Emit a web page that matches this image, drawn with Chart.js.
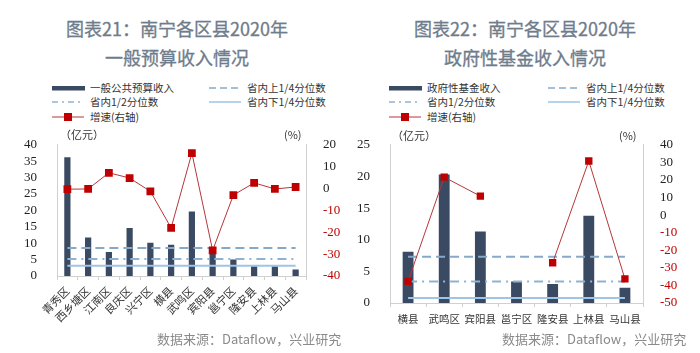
<!DOCTYPE html>
<html>
<head>
<meta charset="utf-8">
<script src="https://cdn.jsdelivr.net/npm/chart.js@4"></script>
<style>
  body { margin: 0; width: 700px; height: 353px; background: #fff; position: relative; overflow: hidden;
         font-family: "Noto Sans CJK SC", sans-serif; }
  .title { position: absolute; width: 350px; text-align: center; color: #6e7c8b; font-size: 18px;
           line-height: 29px; top: 14px; font-weight: 400; -webkit-text-stroke: 0.3px #6e7c8b; }
  .src { position: absolute; top: 329px; font-size: 13px; color: #8a8a8a; white-space: nowrap; }
  .lg { position: absolute; font-size: 10.5px; color: #333; line-height: 14px; white-space: nowrap; }
  .lg svg { position: absolute; top: 2px; }
  .lg span { position: absolute; top: 0; }
  .unit { position: absolute; font-size: 11px; color: #333; white-space: nowrap; }
  .box { position: absolute; }
</style>
</head>
<body>

<div class="title" style="left:2px">图表21：南宁各区县2020年<br>一般预算收入情况</div>
<div class="title" style="left:350px">图表22：南宁各区县2020年<br>政府性基金收入情况</div>

<div id="legend-left"></div>
<div id="legend-right"></div>

<div class="box" style="left:0;top:125px;width:350px;height:205px"><canvas id="chartLeft"></canvas></div>
<div class="box" style="left:350px;top:125px;width:350px;height:210px"><canvas id="chartRight"></canvas></div>

<div class="unit" style="left:60px;top:126px">（亿元）</div>
<div class="unit" style="left:284px;top:126px">(%)</div>
<div class="unit" style="left:392px;top:127px">（亿元）</div>
<div class="unit" style="left:619px;top:127px">(%)</div>

<div class="src" style="left:157px">数据来源：Dataflow，兴业研究</div>
<div class="src" style="left:502px">数据来源：Dataflow，兴业研究</div>

<script>
'use strict';

// left chart data (一般预算收入)
let leftDistricts = ['青秀区', '西乡塘区', '江南区', '良庆区', '兴宁区', '横县', '武鸣区', '宾阳县', '邕宁区', '隆安县', '上林县', '马山县'];
let leftRevenue = [36.2, 11.7, 7.3, 14.6, 10.1, 9.5, 19.7, 8.4, 5.0, 3.0, 3.0, 2.0];
let leftGrowth = [-0.3, -0.2, 7.2, 4.8, -1.3, -18.0, 16.2, -28.3, -3.0, 2.6, -0.2, 0.7];
let leftUpperQ = 8.5;
let leftMedian = 5.2;
let leftLowerQ = 3.1;
let leftTicks = { y: [0, 40, 5], y1: [-40, 20, 10] };

// right chart data (政府性基金收入)
let rightCounties = ['横县', '武鸣区', '宾阳县', '邕宁区', '隆安县', '上林县', '马山县'];
let rightRevenue = [8.1, 20.3, 11.3, 3.4, 3.0, 13.8, 2.4];
let rightGrowth = [-37.7, 21.6, 10.8, null, -27.1, 30.8, -36.3];
let rightUpperQ = 7.3;
let rightMedian = 3.4;
let rightLowerQ = 0.8;
let rightTicks = { y: [0, 25, 5], y1: [-50, 40, 10] };

// colours
const barColor = '#3b4a63';
const upperColor = '#86a9c9';
const medianColor = '#8fb2d2';
const lowerColor = '#9ec4e6';
const growthLine = '#b5363a';
const growthMarker = '#c00000';
const axisColor = '#d0d0d0';

// Legend (HTML)
function symbolSvg(kind){
  if (kind === 'bar') return `<svg width="33" height="10"><rect x="0" y="3" width="33" height="4.5" fill="${barColor}"/></svg>`;
  if (kind === 'upper') return `<svg width="32" height="10"><line x1="0" y1="5" x2="32" y2="5" stroke="${upperColor}" stroke-width="1.5" stroke-dasharray="7,4"/></svg>`;
  if (kind === 'median') return `<svg width="32" height="10"><line x1="0" y1="5" x2="32" y2="5" stroke="${medianColor}" stroke-width="1.5" stroke-dasharray="6,4,2,4"/></svg>`;
  if (kind === 'lower') return `<svg width="32" height="10"><line x1="0" y1="5" x2="32" y2="5" stroke="${lowerColor}" stroke-width="1.5"/></svg>`;
  return `<svg width="32" height="10"><line x1="0" y1="5" x2="32" y2="5" stroke="${growthLine}" stroke-width="1"/><rect x="12" y="1" width="8" height="8" fill="${growthMarker}"/></svg>`;
}

function renderLegend(id, barName, x1, x2){
  let items = [
    [barName, 'bar', x1, 81], ['省内上1/4分位数', 'upper', x2, 81],
    ['省内1/2分位数', 'median', x1, 95], ['省内下1/4分位数', 'lower', x2, 95],
    ['增速(右轴)', 'growth', x1, 110]
  ];
  let html = '';
  for (let it of items){
    html += `<div class="lg" style="left:${it[2]}px;top:${it[3]}px">${symbolSvg(it[1])}<span style="left:38px">${it[0]}</span></div>`;
  }
  document.getElementById(id).innerHTML = html;
}

renderLegend('legend-left', '一般公共预算收入', 52, 209);
renderLegend('legend-right', '政府性基金收入', 389, 548);

// Chart
function makeChart(canvasId, labels, revenue, growth, upper, median, lower, ticks, cfg){
  let quart = v => labels.map(() => v);
  let lineDs = (data, color, dash, order) => ({
    type: 'line', data: data, borderColor: color, borderWidth: 2, borderDash: dash,
    pointRadius: 0, fill: false, yAxisID: 'y', order: order
  });

  return new Chart(document.getElementById(canvasId), {
    type: 'bar',
    data: {
      labels: labels,
      datasets: [
        {
          type: 'line', data: growth, yAxisID: 'y1', order: 0,
          borderColor: growthLine, borderWidth: 1, spanGaps: false,
          pointStyle: 'rect', pointRadius: cfg.pointR, pointBackgroundColor: growthMarker,
          pointBorderColor: growthMarker, pointBorderWidth: 0
        },
        lineDs(quart(upper), upperColor, [9, 5], 1),
        lineDs(quart(median), medianColor, [9, 5, 2, 5], 2),
        lineDs(quart(lower), lowerColor, [], 3),
        {
          type: 'bar', data: revenue, yAxisID: 'y', order: 4,
          backgroundColor: barColor, barPercentage: 0.3, categoryPercentage: 1
        }
      ]
    },
    options: {
      responsive: true,
      maintainAspectRatio: false,
      animation: false,
      layout: { padding: { top: cfg.padTop, left: 0, right: 0, bottom: 0 } },
      plugins: { legend: { display: false }, tooltip: { enabled: false } },
      scales: {
        x: {
          offset: true,
          grid: { display: true, drawOnChartArea: false, drawTicks: true, tickLength: 4, color: axisColor, offset: true },
          border: { display: true, color: axisColor },
          ticks: {
            color: '#333', autoSkip: false, padding: cfg.xPad,
            minRotation: cfg.rot, maxRotation: cfg.rot,
            font: { family: '"Noto Sans CJK SC", sans-serif', size: cfg.xFont }
          },
          afterFit: s => { s.height = cfg.xHeight; }
        },
        y: {
          position: 'left', min: ticks.y[0], max: ticks.y[1],
          grid: { display: false },
          border: { display: true, color: axisColor },
          ticks: { stepSize: ticks.y[2], autoSkip: false, color: '#222', padding: 12, font: { family: '"Liberation Serif", serif', size: 13 } },
          afterFit: s => { s.width = cfg.leftW; }
        },
        y1: {
          position: 'right', min: ticks.y1[0], max: ticks.y1[1],
          grid: { display: false },
          border: { display: true, color: axisColor },
          ticks: {
            stepSize: ticks.y1[2], autoSkip: false, padding: 9,
            color: c => (c.tick && c.tick.value < 0) ? '#c00000' : '#222',
            font: { family: '"Liberation Serif", serif', size: 13 }
          },
          afterFit: s => { s.width = cfg.rightW; }
        }
      }
    }
  });
}

makeChart('chartLeft', leftDistricts, leftRevenue, leftGrowth, leftUpperQ, leftMedian, leftLowerQ, leftTicks,
  { padTop: 8, leftW: 57, rightW: 44, xHeight: 54, rot: 45, xPad: 4, xFont: 11, pointR: 5.5 });

makeChart('chartRight', rightCounties, rightRevenue, rightGrowth, rightUpperQ, rightMedian, rightLowerQ, rightTicks,
  { padTop: 9, leftW: 40, rightW: 57, xHeight: 32, rot: 0, xPad: 6, xFont: 10.5, pointR: 5.2 });
</script>
</body>
</html>
